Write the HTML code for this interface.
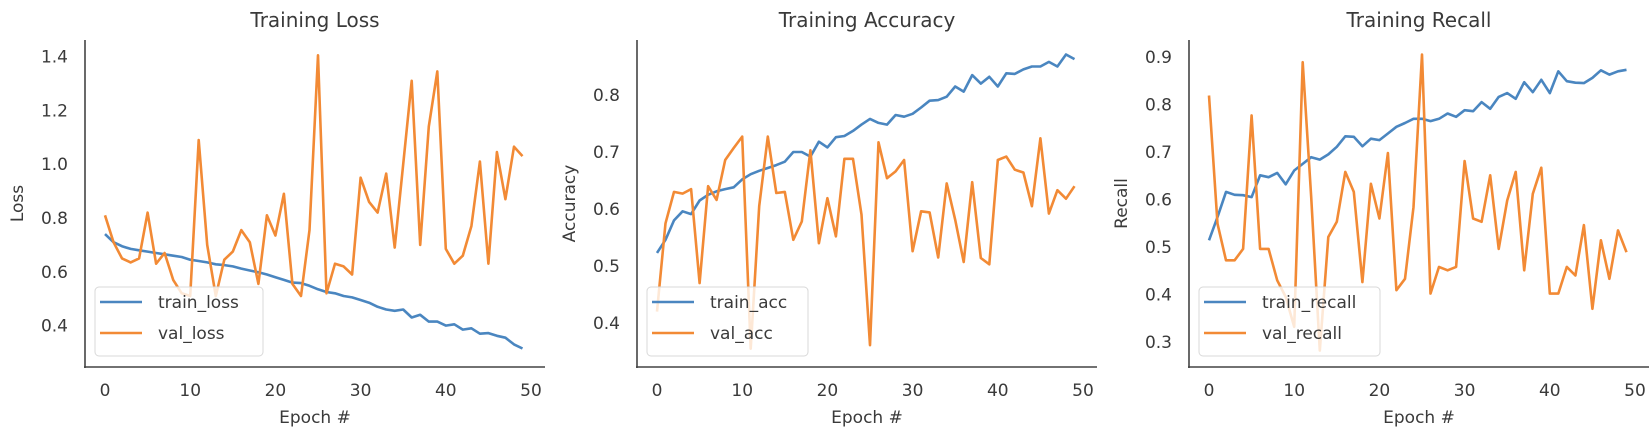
<!DOCTYPE html>
<html><head><meta charset="utf-8"><style>
html,body{margin:0;padding:0;background:#fff;}
svg{display:block;font-family:"DejaVu Sans","Liberation Sans",sans-serif;}
</style></head><body>
<svg id="fig" width="1650" height="438" viewBox="0 0 1650 438" xmlns="http://www.w3.org/2000/svg"></svg>
<script>
const epochs = Array.from({length:50},(_,i)=>i);
const xTicks = [0,10,20,30,40,50];
const trainLoss = [0.74,0.71,0.695,0.685,0.68,0.675,0.67,0.665,0.66,0.655,
0.645,0.64,0.635,0.628,0.625,0.62,0.612,0.605,0.598,0.59,
0.58,0.57,0.56,0.558,0.548,0.535,0.525,0.52,0.51,0.505,
0.495,0.485,0.47,0.46,0.455,0.46,0.43,0.44,0.415,0.415,
0.40,0.405,0.385,0.39,0.37,0.372,0.362,0.355,0.33,0.315];
const valLoss = [0.81,0.71,0.65,0.635,0.65,0.82,0.63,0.67,0.57,0.52,
0.51,1.09,0.70,0.51,0.645,0.675,0.755,0.71,0.555,0.81,
0.735,0.89,0.555,0.51,0.755,1.405,0.52,0.63,0.62,0.59,
0.95,0.86,0.82,0.965,0.69,1.0,1.31,0.70,1.14,1.345,
0.685,0.63,0.66,0.77,1.01,0.63,1.045,0.87,1.065,1.03];
const lossTicks = [0.4,0.6,0.8,1.0,1.2,1.4];
const trainAcc = [0.523,0.546,0.58,0.596,0.591,0.615,0.625,0.631,0.635,0.638,
0.652,0.661,0.667,0.672,0.677,0.683,0.70,0.70,0.692,0.718,
0.708,0.726,0.728,0.737,0.748,0.758,0.751,0.748,0.765,0.762,
0.767,0.778,0.79,0.791,0.797,0.815,0.806,0.835,0.82,0.832,
0.815,0.838,0.837,0.845,0.85,0.85,0.858,0.85,0.871,0.863];
const valAcc = [0.42,0.575,0.63,0.627,0.635,0.47,0.64,0.616,0.686,0.707,
0.727,0.355,0.605,0.727,0.628,0.63,0.546,0.578,0.703,0.54,
0.619,0.552,0.688,0.688,0.59,0.361,0.717,0.654,0.666,0.686,
0.526,0.596,0.594,0.515,0.645,0.581,0.507,0.647,0.514,0.503,
0.686,0.692,0.669,0.664,0.605,0.724,0.592,0.633,0.618,0.64];
const accTicks = [0.4,0.5,0.6,0.7,0.8];
const trainRecall = [0.514,0.563,0.616,0.61,0.609,0.605,0.651,0.647,0.656,0.632,
0.661,0.675,0.689,0.684,0.695,0.711,0.733,0.732,0.712,0.728,
0.725,0.739,0.753,0.761,0.77,0.77,0.765,0.77,0.781,0.774,
0.788,0.786,0.805,0.791,0.816,0.824,0.812,0.847,0.826,0.852,
0.824,0.87,0.849,0.846,0.845,0.856,0.872,0.863,0.87,0.873];
const valRecall = [0.819,0.549,0.472,0.472,0.496,0.777,0.496,0.496,0.43,0.395,
0.332,0.889,0.605,0.282,0.521,0.553,0.658,0.616,0.426,0.633,
0.56,0.698,0.409,0.433,0.584,0.905,0.402,0.458,0.451,0.458,
0.681,0.56,0.553,0.651,0.496,0.598,0.658,0.451,0.612,0.667,
0.402,0.402,0.458,0.44,0.546,0.37,0.514,0.433,0.535,0.489];
const recallTicks = [0.3,0.4,0.5,0.6,0.7,0.8,0.9];

const NS="http://www.w3.org/2000/svg";
const svg=document.getElementById('fig');
function mk(tag,attrs,parent){const e=document.createElementNS(NS,tag);for(const k in attrs)e.setAttribute(k,attrs[k]);(parent||svg).appendChild(e);return e;}
const BLUE="#4a86c0", ORANGE="#f28a35", TXT="#3a3a3a";

const panels=[
 {key:'loss',left:85,title:'Training Loss',ylabel:'Loss',ticks:lossTicks,fmt:v=>v.toFixed(1),
  yRef:0.8,yRefPx:218,pxPer:269,train:trainLoss,val:valLoss,names:['train_loss','val_loss']},
 {key:'accuracy',left:637,title:'Training Accuracy',ylabel:'Accuracy',ticks:accTicks,fmt:v=>v.toFixed(1),
  yRef:0.8,yRefPx:95,pxPer:570,train:trainAcc,val:valAcc,names:['train_acc','val_acc']},
 {key:'recall',left:1189,title:'Training Recall',ylabel:'Recall',ticks:recallTicks,fmt:v=>v.toFixed(1),
  yRef:0.9,yRefPx:57,pxPer:475,train:trainRecall,val:valRecall,names:['train_recall','val_recall']}
];
const TOP=40,BOTTOM=367,W=460;

panels.forEach(p=>{
  const g=mk('g',{});
  
  
  const xs=e=>p.left+20+e*8.52;
  const ys=v=>p.yRefPx+(p.yRef-v)*p.pxPer;
  const t=mk('text',{x:p.left+W/2,y:27,'text-anchor':'middle','font-size':20,fill:TXT},g);
  t.textContent=p.title;
  
  
  // spines
  const sy=mk('line',{x1:p.left,y1:TOP,x2:p.left,y2:BOTTOM+1,stroke:'#444','stroke-width':1.6},g);
  
  
  const sx=mk('line',{x1:p.left-1,y1:BOTTOM,x2:p.left+W,y2:BOTTOM,stroke:'#444','stroke-width':1.6},g);
  
  
  xTicks.forEach(tk=>{
    const l=mk('text',{x:xs(tk),y:396,'text-anchor':'middle','font-size':17,fill:TXT},g);
    l.textContent=tk;
    
    
  });
  p.ticks.forEach(tk=>{
    const l=mk('text',{x:p.left-17,y:ys(tk)+6,'text-anchor':'end','font-size':17,fill:TXT},g);
    l.textContent=p.fmt(tk);
    
    
  });
  const xl=mk('text',{x:p.left+W/2,y:423,'text-anchor':'middle','font-size':17,fill:TXT},g);
  xl.textContent='Epoch #';
  
  
  const cy=(TOP+BOTTOM)/2, cx=p.left-62;
  const yl=mk('text',{x:cx,y:cy,'text-anchor':'middle','font-size':17,fill:TXT,transform:`rotate(-90 ${cx} ${cy})`},g);
  yl.textContent=p.ylabel;
  
  
  const pts=arr=>arr.map((v,i)=>xs(epochs[i]).toFixed(1)+','+ys(v).toFixed(1)).join(' ');
  const tl=mk('polyline',{points:pts(p.train),fill:'none',stroke:BLUE,'stroke-width':2.6,'stroke-linejoin':'round'},g);
  
  
  const vl=mk('polyline',{points:pts(p.val),fill:'none',stroke:ORANGE,'stroke-width':2.6,'stroke-linejoin':'round'},g);
  
  
  // legend
  const lg=mk('g',{},g);
  
  
  const bw = p.key==='accuracy'?161:(p.key==='loss'?168:181);
  mk('rect',{x:p.left+10,y:287,width:bw,height:69,rx:4,fill:'rgba(255,255,255,0.8)',stroke:'#d8d8d8','stroke-width':1},lg);
  [[p.names[0],BLUE,302],[p.names[1],ORANGE,333]].forEach(([n,c,yy])=>{
    const e=mk('g',{},lg);
    
    
    mk('line',{x1:p.left+15,y1:yy,x2:p.left+57,y2:yy,stroke:c,'stroke-width':2.6},e);
    const tx=mk('text',{x:p.left+73,y:yy+6,'font-size':17,fill:TXT},e);
    tx.textContent=n;
  });
});
</script>
</body></html>
